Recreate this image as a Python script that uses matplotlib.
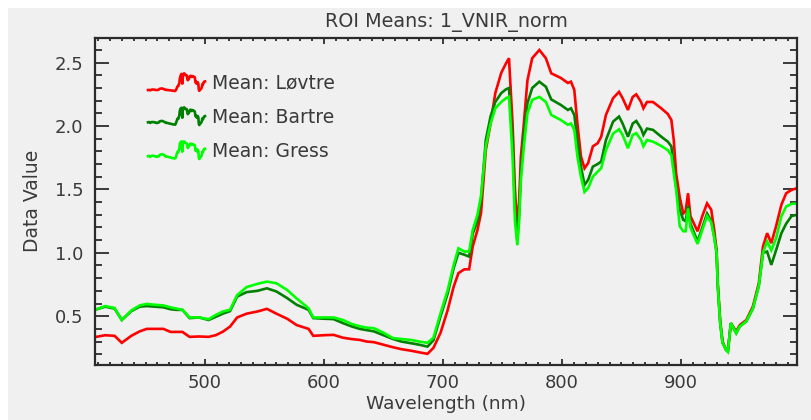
import numpy as np
import matplotlib
matplotlib.use("Agg")
import matplotlib.pyplot as plt
from matplotlib.lines import Line2D
from matplotlib.legend_handler import HandlerBase
from matplotlib.patches import Rectangle
from matplotlib.ticker import MultipleLocator, FormatStrFormatter

# Wavelengths (nm) and ROI mean spectra
wavelength = [407.5, 416, 424, 430, 438, 445, 451, 458, 465, 471, 476, 481, 487, 495,
              503, 509, 515, 521, 527, 535, 544, 552, 560, 569, 577, 587, 591, 600,
              608, 616, 623, 630, 636, 642, 650, 658, 665, 673, 680, 687, 692, 698,
              704, 709, 713, 718, 722, 725, 729, 732, 736, 740, 744, 749, 753, 755.5,
              758.5, 760.5, 762.5, 764, 765.5, 768, 771, 775, 781, 786.5, 791, 799,
              805, 807.6, 810.4, 813, 816, 819, 822, 826, 830, 833, 837, 843, 848,
              851, 855.5, 859.5, 862.5, 866.5, 868.5, 871.5, 876.5, 883.5, 889, 892,
              894, 896, 899, 902, 904, 906, 908, 914, 918, 922, 925.5, 928, 930, 931,
              933, 935, 938, 939.5, 942, 946.5, 949.5, 955, 960.5, 965.5, 969, 972.5,
              976, 980, 984.5, 988.5, 993, 997.6]

lovtre = [0.335, 0.35, 0.345, 0.29, 0.345, 0.38, 0.40, 0.40, 0.40, 0.376, 0.376, 0.376,
          0.337, 0.34, 0.337, 0.35, 0.378, 0.418, 0.49, 0.52, 0.537, 0.558, 0.52, 0.48,
          0.43, 0.40, 0.345, 0.35, 0.353, 0.33, 0.32, 0.313, 0.30, 0.295, 0.275, 0.255,
          0.24, 0.228, 0.215, 0.203, 0.25, 0.37, 0.55, 0.733, 0.84, 0.87, 0.87, 1.05,
          1.18, 1.315, 1.81, 2.02, 2.26, 2.42, 2.495, 2.535, 2.02, 1.5, 1.2, 1.4, 1.76,
          2.02, 2.36, 2.535, 2.60, 2.535, 2.416, 2.38, 2.34, 2.35, 2.285, 2.02, 1.76,
          1.667, 1.707, 1.84, 1.864, 1.916, 2.088, 2.22, 2.27, 2.22, 2.127, 2.23, 2.25,
          2.19, 2.14, 2.19, 2.19, 2.14, 2.095, 2.048, 1.89, 1.628, 1.44, 1.31, 1.33,
          1.47, 1.29, 1.17, 1.29, 1.39, 1.34, 1.18, 1.02, 0.76, 0.47, 0.30, 0.234,
          0.23, 0.445, 0.38, 0.43, 0.47, 0.576, 0.76, 1.05, 1.155, 1.076, 1.21, 1.38,
          1.47, 1.496, 1.51]

bartre = [0.55, 0.575, 0.56, 0.47, 0.54, 0.575, 0.58, 0.575, 0.57, 0.555, 0.55, 0.55,
          0.485, 0.49, 0.47, 0.495, 0.52, 0.54, 0.655, 0.69, 0.70, 0.72, 0.695, 0.643,
          0.59, 0.55, 0.485, 0.48, 0.477, 0.445, 0.42, 0.40, 0.39, 0.38, 0.35, 0.32,
          0.30, 0.287, 0.275, 0.26, 0.31, 0.50, 0.68, 0.88, 1.00, 0.985, 0.97, 1.15,
          1.25, 1.42, 1.89, 2.075, 2.19, 2.26, 2.29, 2.30, 1.89, 1.35, 1.10, 1.3, 1.63,
          1.945, 2.18, 2.30, 2.35, 2.31, 2.21, 2.167, 2.127, 2.14, 2.088, 1.89, 1.68,
          1.535, 1.575, 1.68, 1.70, 1.72, 1.89, 2.035, 2.075, 2.02, 1.916, 2.02, 2.04,
          1.98, 1.93, 1.98, 1.97, 1.916, 1.877, 1.84, 1.68, 1.52, 1.34, 1.26, 1.25,
          1.37, 1.23, 1.09, 1.2, 1.31, 1.25, 1.13, 1.0, 0.74, 0.45, 0.29, 0.234,
          0.22, 0.445, 0.366, 0.42, 0.46, 0.56, 0.74, 1.0, 1.01, 0.905, 1.02, 1.155,
          1.23, 1.29, 1.30]

gress = [0.55, 0.58, 0.565, 0.47, 0.545, 0.585, 0.597, 0.59, 0.585, 0.57, 0.56, 0.55,
         0.49, 0.49, 0.476, 0.51, 0.537, 0.55, 0.667, 0.73, 0.755, 0.773, 0.76, 0.707,
         0.64, 0.563, 0.49, 0.49, 0.49, 0.47, 0.44, 0.42, 0.41, 0.405, 0.37, 0.327,
         0.32, 0.313, 0.30, 0.29, 0.33, 0.524, 0.707, 0.905, 1.036, 1.01, 1.01, 1.18,
         1.30, 1.45, 1.84, 2.02, 2.14, 2.19, 2.22, 2.23, 1.76, 1.25, 1.06, 1.25, 1.575,
         1.84, 2.10, 2.206, 2.23, 2.19, 2.088, 2.048, 2.01, 2.02, 1.97, 1.76, 1.60,
         1.48, 1.51, 1.60, 1.64, 1.667, 1.81, 1.94, 1.975, 1.93, 1.825, 1.93, 1.944,
         1.89, 1.84, 1.89, 1.877, 1.843, 1.81, 1.77, 1.628, 1.496, 1.21, 1.17, 1.17,
         1.35, 1.2, 1.07, 1.18, 1.29, 1.24, 1.12, 1.0, 0.74, 0.45, 0.29, 0.234,
         0.22, 0.445, 0.366, 0.42, 0.46, 0.56, 0.74, 1.0, 1.09, 1.02, 1.115, 1.29,
         1.365, 1.386, 1.39]

series_labels = ["Mean: Løvtre", "Mean: Bartre", "Mean: Gress"]
series_colors = ["#ff0000", "#008000", "#00ff00"]

TEXT = "#3a3a3a"
AXIS = "#2b2b2b"
PANEL = "#f0f0f0"

plt.rcParams["font.family"] = ["DejaVu Sans"]

fig = plt.figure(figsize=(8.12, 4.2), dpi=100, facecolor="white")
fig.patches.append(Rectangle((8 / 812, 0), 1, 1 - 8 / 420, transform=fig.transFigure,
                             facecolor=PANEL, edgecolor="none", zorder=-10))

ax = fig.add_axes([95 / 812, 55 / 420, 702 / 812, 327.3 / 420])
ax.set_facecolor(PANEL)


class HandlerSpectrum(HandlerBase):
    """Legend key drawn as a miniature of the plotted spectrum."""

    def create_artists(self, legend, orig_handle, xdescent, ydescent,
                       width, height, fontsize, trans):
        x = np.asarray(orig_handle.get_xdata(), dtype=float)
        y = np.asarray(orig_handle.get_ydata(), dtype=float)
        xs = -xdescent + (x - x.min()) / (x.max() - x.min()) * width
        ys = -ydescent + (y - y.min()) / (y.max() - y.min()) * height
        mini = Line2D(xs, ys, color=orig_handle.get_color(),
                      linewidth=orig_handle.get_linewidth())
        mini.set_transform(trans)
        return [mini]


lines = []
for vals, lab, col in zip([lovtre, bartre, gress], series_labels, series_colors):
    ln, = ax.plot(wavelength, vals, color=col, lw=1.9, label=lab,
                  solid_joinstyle="miter")
    lines.append(ln)

ax.set_xlim(407.5, 997.6)
ax.set_ylim(0.115, 2.697)

ax.xaxis.set_major_locator(MultipleLocator(100))
ax.xaxis.set_minor_locator(MultipleLocator(10))
ax.yaxis.set_major_locator(MultipleLocator(0.5))
ax.yaxis.set_minor_locator(MultipleLocator(0.1))
ax.yaxis.set_major_formatter(FormatStrFormatter("%.1f"))

ax.tick_params(axis="both", which="both", direction="in", top=True, right=True,
               color=AXIS, width=1.3, labelcolor=TEXT, labelsize=13)
ax.tick_params(axis="x", which="major", length=4.3, pad=6.5)
ax.tick_params(axis="x", which="minor", length=2.2)
ax.tick_params(axis="y", which="major", length=10, pad=8.5)
ax.tick_params(axis="y", which="minor", length=5)
for sp in ax.spines.values():
    sp.set_color(AXIS)
    sp.set_linewidth(1.6)

ax.set_title("ROI Means: 1_VNIR_norm", fontsize=13.8, color=TEXT, pad=8)
ax.set_xlabel("Wavelength (nm)", fontsize=13.3, color=TEXT, labelpad=2)
ax.set_ylabel("Data Value", fontsize=13.5, color=TEXT, labelpad=9)

ax.legend(handles=lines, handler_map={ln: HandlerSpectrum() for ln in lines},
          loc="upper left", bbox_to_anchor=(0.0755, 0.891), frameon=False,
          fontsize=13.5, handlelength=3.04, handleheight=1.07, handletextpad=0.37,
          labelspacing=0.79, borderpad=0, borderaxespad=0, labelcolor=TEXT)

fig.savefig("out.png", dpi=100, facecolor=fig.get_facecolor())
